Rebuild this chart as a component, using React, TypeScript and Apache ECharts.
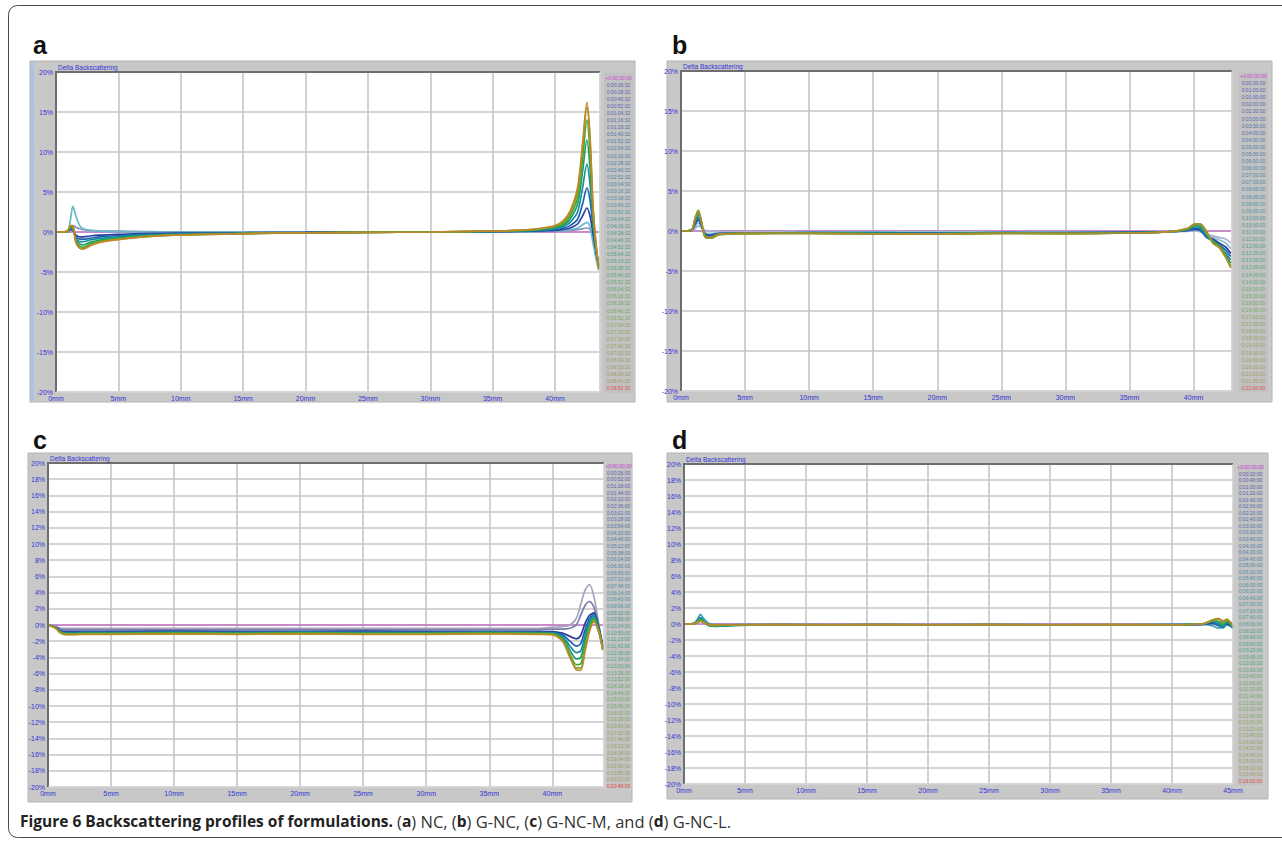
import React, { useEffect, useRef } from "react";
import * as echarts from "echarts";

// ---------- Panel a : NC ----------
const aX = [0, 0.9, 1.15, 1.35, 1.6, 1.9, 2.2, 2.7, 3.5, 5, 7, 10, 15, 20, 25, 30, 34, 36, 38, 39, 40, 40.7, 41.2, 41.8, 42.2, 42.55, 42.8, 43.05, 43.3, 43.5];
const aY = [
  [0, 0, 0, 0, 0, 0, 0, 0, 0, 0, 0, 0, 0, 0, 0, 0, 0, 0, 0, 0, 0, 0, 0, 0, 0, 0, 0, 0, 0, 0],
  [0, 0.05, 0.3, 0.8, 0.6, 0.4, 0.3, 0.2, 0.15, 0.1, 0.05, 0, 0, 0, 0, 0, 0, 0, 0, 0.05, 0.1, 0.15, 0.2, 0.3, 0.4, 0.5, 0.3, -0.5, -2.5, -3.5],
  [0, 0.1, 1.5, 3.2, 2.0, 0.8, 0.4, 0.2, 0.1, 0.05, 0, 0, 0, 0, 0, 0, 0, 0, 0.05, 0.1, 0.15, 0.2, 0.3, 0.5, 0.9, 1.2, 0.6, -1.5, -3.5, -4.8],
  [0, 0.05, 0.3, 0.2, -0.4, -0.6, -0.6, -0.5, -0.4, -0.3, -0.2, -0.15, -0.1, -0.05, 0, 0, 0, 0.05, 0.1, 0.15, 0.2, 0.35, 0.5, 1.0, 2.0, 3.0, 2.0, -0.3, -2.6, -4.0],
  [0, 0.05, 0.4, 0.3, -0.6, -0.9, -0.9, -0.8, -0.6, -0.45, -0.3, -0.2, -0.1, -0.05, 0, 0, 0.05, 0.1, 0.15, 0.2, 0.3, 0.5, 0.8, 1.6, 3.5, 5.5, 4.0, 0.5, -2.5, -4.2],
  [0, 0.05, 0.5, 0.4, -0.8, -1.2, -1.2, -1.0, -0.8, -0.6, -0.4, -0.25, -0.15, -0.1, -0.05, 0, 0.05, 0.1, 0.2, 0.3, 0.45, 0.7, 1.2, 2.5, 5.5, 8.5, 6.0, 1.2, -2.4, -4.3],
  [0, 0.05, 0.6, 0.5, -1.0, -1.5, -1.6, -1.3, -1.0, -0.75, -0.5, -0.3, -0.2, -0.1, -0.05, 0, 0.05, 0.1, 0.2, 0.35, 0.55, 0.9, 1.6, 3.5, 7.5, 11.5, 8.0, 1.8, -2.2, -4.4],
  [0, 0.05, 0.7, 0.6, -1.2, -1.8, -1.9, -1.5, -1.15, -0.85, -0.55, -0.35, -0.2, -0.1, -0.05, 0, 0.1, 0.15, 0.25, 0.4, 0.65, 1.1, 2.0, 4.3, 9.0, 14.0, 10.0, 2.3, -2.1, -4.5],
  [0, 0.05, 0.75, 0.7, -1.3, -2.0, -2.1, -1.7, -1.25, -0.9, -0.6, -0.35, -0.2, -0.1, -0.05, 0, 0.1, 0.15, 0.3, 0.45, 0.75, 1.3, 2.4, 5.0, 10.5, 15.6, 11.5, 2.7, -1.9, -4.6],
  [0, 0.1, 0.8, 0.8, -1.3, -2.0, -2.1, -1.75, -1.3, -0.95, -0.6, -0.35, -0.2, -0.1, -0.05, 0, 0.1, 0.15, 0.3, 0.5, 0.8, 1.5, 2.6, 5.5, 11.0, 16.2, 12.0, 3.0, -1.8, -4.6],
];
const aColors = ["#c040c0", "#8c8cc4", "#6ab8c8", "#2a3f9f", "#1f62b0", "#178c9c", "#1e9e6a", "#3ea832", "#8aa620", "#c0862c"];

// ---------- Panel b : G-NC ----------
const bX = [0, 0.8, 1.1, 1.35, 1.6, 1.9, 2.3, 3, 5, 10, 15, 20, 25, 30, 35, 38, 39.5, 40.1, 40.5, 41, 41.5, 42, 42.5, 42.9];
const bY = [
  [0, 0, 0, 0, 0, 0, 0, 0, 0, 0, 0, 0, 0, 0, 0, 0, 0, 0, 0, 0, 0, 0, 0, 0],
  [0, 0.05, 0.3, 0.6, 0.4, 0.1, 0, -0.1, -0.1, -0.1, -0.1, -0.1, -0.1, -0.1, -0.1, -0.1, -0.05, 0, -0.1, -0.4, -0.6, -0.8, -1.0, -1.5],
  [0, 0.05, 0.5, 1.0, 0.5, -0.2, -0.3, -0.2, -0.2, -0.15, -0.1, -0.15, -0.1, -0.1, -0.1, -0.1, 0, 0.1, 0, -0.5, -0.8, -1.1, -1.5, -2.2],
  [0, 0.05, 0.8, 1.4, 0.6, -0.4, -0.5, -0.3, -0.25, -0.2, -0.2, -0.25, -0.2, -0.2, -0.15, -0.1, 0.05, 0.2, 0.1, -0.7, -1.0, -1.5, -2.0, -2.8],
  [0, 0.1, 1.0, 1.7, 0.7, -0.5, -0.6, -0.35, -0.3, -0.2, -0.25, -0.3, -0.2, -0.25, -0.2, -0.1, 0.1, 0.35, 0.2, -0.8, -1.2, -1.7, -2.4, -3.2],
  [0, 0.1, 1.2, 2.0, 0.8, -0.6, -0.7, -0.4, -0.3, -0.25, -0.3, -0.3, -0.25, -0.25, -0.2, -0.1, 0.15, 0.5, 0.4, -0.6, -1.3, -1.9, -2.8, -3.6],
  [0, 0.1, 1.4, 2.3, 0.9, -0.7, -0.8, -0.4, -0.3, -0.25, -0.3, -0.35, -0.25, -0.3, -0.2, -0.1, 0.2, 0.7, 0.6, -0.3, -1.2, -1.8, -3.0, -4.0],
  [0, 0.1, 1.5, 2.5, 1.0, -0.8, -0.9, -0.45, -0.3, -0.3, -0.35, -0.35, -0.3, -0.3, -0.25, -0.1, 0.25, 0.85, 0.8, -0.2, -1.4, -1.9, -3.1, -4.4],
  [0, 0.1, 1.6, 2.6, 1.1, -0.8, -0.9, -0.45, -0.35, -0.3, -0.35, -0.4, -0.3, -0.35, -0.25, -0.1, 0.3, 0.9, 0.9, -0.1, -1.5, -2.0, -3.2, -4.5],
  [0, 0.1, 1.6, 2.5, 1.2, -0.7, -0.8, -0.4, -0.3, -0.3, -0.35, -0.35, -0.3, -0.3, -0.25, -0.1, 0.3, 0.85, 0.9, 0, -1.5, -2.1, -3.3, -4.6],
];
const bColors = ["#c040c0", "#b0b0d8", "#8cc0d0", "#2a3f9f", "#1f62b0", "#178c9c", "#1e9e6a", "#3ea832", "#8aa620", "#b08a30"];

// ---------- Panel c : G-NC-M ----------
const cX = [0, 0.6, 1.0, 1.4, 2, 3, 5, 10, 15, 20, 25, 30, 35, 39, 40, 40.8, 41.4, 41.9, 42.25, 42.6, 42.95, 43.3, 43.7, 44.0];
const cY = [
  [0, 0, 0, 0, 0, 0, 0, 0, 0, 0, 0, 0, 0, 0, 0, 0, 0, 0, 0, 0, 0, 0, 0, 0],
  [0, -0.2, -0.4, -0.4, -0.4, -0.4, -0.4, -0.4, -0.4, -0.4, -0.4, -0.4, -0.4, -0.4, -0.3, -0.2, 0, 0.8, 2.5, 4.3, 5.0, 3.5, 0, -2.6],
  [0, -0.2, -0.5, -0.6, -0.6, -0.6, -0.6, -0.6, -0.6, -0.6, -0.6, -0.6, -0.6, -0.6, -0.5, -0.5, -0.4, 0, 1.2, 2.4, 2.9, 2.2, -0.3, -2.7],
  [0, -0.3, -0.7, -0.8, -0.8, -0.8, -0.8, -0.75, -0.8, -0.8, -0.75, -0.8, -0.8, -0.8, -0.8, -1.0, -1.4, -1.7, -1.3, 0.2, 1.2, 1.5, -0.4, -2.7],
  [0, -0.3, -0.8, -0.9, -0.9, -0.85, -0.9, -0.85, -0.9, -0.85, -0.85, -0.9, -0.85, -0.9, -0.9, -1.2, -2.0, -2.6, -2.3, -0.6, 0.8, 1.3, -0.5, -2.8],
  [0, -0.3, -0.85, -1.0, -1.0, -0.95, -0.95, -0.9, -0.95, -0.9, -0.95, -0.95, -0.9, -0.95, -1.0, -1.4, -2.6, -3.4, -3.2, -1.3, 0.5, 1.1, -0.6, -2.9],
  [0, -0.35, -0.9, -1.05, -1.05, -1.0, -1.0, -0.95, -1.0, -0.95, -1.0, -1.0, -0.95, -1.0, -1.05, -1.6, -3.1, -4.2, -4.0, -2.0, 0.1, 0.9, -0.7, -3.0],
  [0, -0.35, -0.95, -1.1, -1.1, -1.05, -1.05, -1.0, -1.05, -1.0, -1.05, -1.05, -1.0, -1.05, -1.1, -1.8, -3.6, -4.9, -4.8, -2.6, -0.3, 0.7, -0.8, -3.0],
  [0, -0.4, -1.0, -1.15, -1.15, -1.1, -1.1, -1.05, -1.1, -1.05, -1.1, -1.1, -1.05, -1.1, -1.15, -1.9, -3.9, -5.3, -5.3, -3.0, -0.6, 0.5, -0.9, -3.1],
  [0, -0.4, -1.0, -1.2, -1.2, -1.15, -1.15, -1.1, -1.15, -1.1, -1.15, -1.15, -1.1, -1.15, -1.2, -2.0, -4.0, -5.5, -5.6, -3.2, -0.8, 0.4, -1.0, -3.1],
];
const cColors = ["#c040c0", "#a4a4bc", "#7c7cae", "#2a3a9a", "#1f5fb0", "#1a88a0", "#1e9e70", "#3ea832", "#8aa620", "#b88a2c"];

// ---------- Panel d : G-NC-L ----------
const dX = [0, 0.8, 1.1, 1.35, 1.6, 2.0, 2.5, 4, 8, 12, 16, 20, 25, 30, 35, 40, 42.5, 43.3, 43.8, 44.2, 44.5, 44.8, 45];
const dY = [
  [0, 0, 0, 0, 0, 0, 0, 0, 0, 0, 0, 0, 0, 0, 0, 0, 0, 0, 0, 0, 0, 0, 0],
  [0, 0.05, 0.2, 0.4, 0.2, 0, -0.05, -0.05, -0.05, -0.05, -0.05, -0.05, -0.05, -0.05, -0.05, -0.05, -0.05, 0, 0.1, 0, -0.1, -0.2, -0.3],
  [0, 0.1, 0.6, 1.2, 0.7, 0.1, -0.1, -0.1, -0.05, -0.1, -0.05, -0.1, -0.05, -0.1, -0.1, -0.05, -0.05, -0.2, -0.5, -0.4, -0.1, -0.3, -0.5],
  [0, 0.05, 0.3, 0.6, 0.3, -0.1, -0.2, -0.15, -0.1, -0.1, -0.1, -0.1, -0.1, -0.1, -0.1, -0.1, -0.05, 0.1, -0.2, -0.3, 0, -0.2, -0.4],
  [0, 0.05, 0.35, 0.7, 0.35, -0.15, -0.25, -0.15, -0.1, -0.1, -0.1, -0.1, -0.1, -0.1, -0.1, -0.1, -0.05, 0.2, -0.1, -0.4, 0.1, -0.1, -0.4],
  [0, 0.05, 0.4, 0.8, 0.4, -0.2, -0.3, -0.2, -0.1, -0.15, -0.1, -0.1, -0.1, -0.1, -0.1, -0.1, 0, 0.3, 0, -0.5, 0.2, -0.1, -0.5],
  [0, 0.05, 0.3, 0.6, 0.3, -0.15, -0.25, -0.15, -0.1, -0.1, -0.1, -0.1, -0.1, -0.1, -0.1, -0.1, 0, 0.4, 0.3, -0.2, 0.4, 0, -0.4],
  [0, 0.05, 0.25, 0.5, 0.25, -0.1, -0.2, -0.1, -0.1, -0.1, -0.1, -0.1, -0.1, -0.1, -0.1, -0.1, 0, 0.5, 0.6, 0.1, 0.5, 0.1, -0.3],
  [0, 0.05, 0.2, 0.4, 0.2, -0.1, -0.15, -0.1, -0.1, -0.1, -0.1, -0.1, -0.1, -0.1, -0.1, -0.1, 0, 0.5, 0.7, 0.3, 0.6, 0.2, -0.3],
  [0, 0.05, 0.2, 0.35, 0.2, -0.05, -0.1, -0.1, -0.05, -0.1, -0.05, -0.1, -0.05, -0.1, -0.05, -0.1, 0, 0.4, 0.6, 0.4, 0.5, 0.2, -0.2],
];
const dColors = ["#c040c0", "#9090c0", "#2aa0b0", "#2a3f9f", "#1f62b0", "#178c9c", "#1e9e6a", "#6aa628", "#8aa620", "#b08a30"];

// ---------- Texts ----------
const panelLetters = ["a", "b", "c", "d"];
const plotTitle = "Delta Backscattering";
const xUnit = "mm";
const yUnit = "%";
const xMaxes = [43.6, 43.0, 44.1, 45];
const yIntervals = [5, 5, 2, 2];
const captionBold = "Figure 6 Backscattering profiles of formulations.";
const captionParts = [
  ["a", "NC, "],
  ["b", "G-NC, "],
  ["c", "G-NC-M, and "],
  ["d", "G-NC-L."],
];
// legend time scans
const legendCounts = [45, 45, 49, 49];
const legendStepMin = [12, 30, 26, 20];
const legendOffsetMin = [4, 0, 0, 0];
const legendSeconds = [32, 0, 0, 0];

const LABEL_BLUE = "#3434d4";
const FONT = "Liberation Sans, Arial, sans-serif";

const pad = (n: number) => (n < 10 ? "0" + n : "" + n);
function timeLabel(totalMin: number, sec: number) {
  const d = Math.floor(totalMin / 1440);
  const h = Math.floor((totalMin % 1440) / 60);
  const m = totalMin % 60;
  return `${d}:${pad(h)}:${pad(m)}:${pad(sec)}`;
}
function hexToRgb(h: string) {
  const v = parseInt(h.slice(1), 16);
  return [(v >> 16) & 255, (v >> 8) & 255, v & 255];
}
function mix(a: string, b: string, t: number) {
  const A = hexToRgb(a), B = hexToRgb(b);
  const c = A.map((x, i) => Math.round(x + (B[i] - x) * t));
  return `rgb(${c[0]},${c[1]},${c[2]})`;
}
const legendStops: [number, string][] = [
  [0, "#5a5ab4"],
  [0.35, "#4a8ca8"],
  [0.6, "#48a878"],
  [0.8, "#88a858"],
  [1, "#a89868"],
];
function legendColor(t: number) {
  for (let i = 0; i < legendStops.length - 1; i++) {
    const [t0, c0] = legendStops[i];
    const [t1, c1] = legendStops[i + 1];
    if (t <= t1) return mix(c0, c1, (t - t0) / (t1 - t0));
  }
  return legendStops[legendStops.length - 1][1];
}

type Layout = {
  grid: { left: number; top: number; width: number; height: number };
  frame: { x: number; y: number; w: number; h: number };
  legend: { x: number; w: number; y0: number; y1: number };
  letter: { x: number; y: number };
};

const layouts: Layout[] = [
  { grid: { left: 56, top: 72, width: 544, height: 320 }, frame: { x: 30, y: 61, w: 605, h: 341 }, legend: { x: 603, w: 31, y0: 78, y1: 388 }, letter: { x: 33, y: 45 } },
  { grid: { left: 681, top: 71, width: 551, height: 320 }, frame: { x: 667, y: 61, w: 605, h: 341 }, legend: { x: 1238, w: 31, y0: 76, y1: 388 }, letter: { x: 672, y: 45 } },
  { grid: { left: 48, top: 463, width: 556, height: 324 }, frame: { x: 28, y: 453, w: 604, h: 349 }, legend: { x: 606, w: 25, y0: 466, y1: 786 }, letter: { x: 33, y: 440 } },
  { grid: { left: 684, top: 464, width: 549, height: 320 }, frame: { x: 667, y: 453, w: 601, h: 346 }, legend: { x: 1237, w: 27, y0: 467, y1: 781 }, letter: { x: 672, y: 440 } },
];

const panelXs = [aX, bX, cX, dX];
const panelYs = [aY, bY, cY, dY];
const panelColors = [aColors, bColors, cColors, dColors];

function buildOption() {
  const grids: any[] = [];
  const xAxes: any[] = [];
  const yAxes: any[] = [];
  const series: any[] = [];
  const graphics: any[] = [];

  graphics.push({
    type: "rect",
    z: -20,
    shape: { x: 8.5, y: 5.5, width: 1300, height: 832, r: 9 },
    style: { fill: "#ffffff", stroke: "#4a4a4a", lineWidth: 1 },
  });

  layouts.forEach((L, p) => {
    const g = L.grid;
    grids.push({ left: g.left, top: g.top, width: g.width, height: g.height, containLabel: false });
    xAxes.push({
      gridIndex: p,
      type: "value",
      min: 0,
      max: xMaxes[p],
      interval: 5,
      axisLine: { show: false },
      axisTick: { show: false },
      axisLabel: {
        formatter: "{value}" + xUnit,
        color: LABEL_BLUE,
        fontSize: 7,
        fontFamily: FONT,
        margin: 3,
        showMaxLabel: p === 3,
      },
      splitLine: { show: true, lineStyle: { color: "#c6c6c6", width: 1.6 } },
    });
    yAxes.push({
      gridIndex: p,
      type: "value",
      min: -20,
      max: 20,
      interval: yIntervals[p],
      axisLine: { show: false },
      axisTick: { show: false },
      axisLabel: {
        formatter: "{value}" + yUnit,
        color: LABEL_BLUE,
        fontSize: 7,
        fontFamily: FONT,
        margin: 3,
      },
      splitLine: { show: true, lineStyle: { color: "#c6c6c6", width: 1.6 } },
    });

    const xs = panelXs[p];
    panelYs[p].forEach((ys, k) => {
      series.push({
        type: "line",
        xAxisIndex: p,
        yAxisIndex: p,
        data: xs.map((x, i) => [x, ys[i]]),
        showSymbol: false,
        symbol: "none",
        smooth: 0.3,
        silent: true,
        z: 3,
        lineStyle: { width: k === 0 ? 1 : 1.7, color: panelColors[p][k] },
      });
    });

    const F = L.frame;
    graphics.push({
      type: "rect",
      z: -10,
      shape: { x: F.x, y: F.y, width: F.w, height: F.h },
      style: { fill: "#c8c8c8", stroke: "#b4b4b4", lineWidth: 1 },
    });
    graphics.push({
      type: "rect",
      z: -9,
      shape: { x: L.legend.x, y: g.top, width: L.legend.w, height: g.height + 2 },
      style: { fill: "#c2c2c2", stroke: "#d4d4d4", lineWidth: 0.6 },
    });
    graphics.push({
      type: "rect",
      z: -8,
      shape: { x: g.left, y: g.top, width: g.width, height: g.height },
      style: { fill: "#ffffff" },
    });
    graphics.push({
      type: "polyline",
      z: 8,
      shape: { points: [[g.left, g.top + g.height], [g.left, g.top], [g.left + g.width, g.top]] },
      style: { stroke: "#6e6e6e", lineWidth: 2, fill: "none" },
    });
    graphics.push({
      type: "polyline",
      z: 8,
      shape: { points: [[g.left, g.top + g.height], [g.left + g.width, g.top + g.height], [g.left + g.width, g.top]] },
      style: { stroke: "#dcdcdc", lineWidth: 1, fill: "none" },
    });
    graphics.push({
      type: "text",
      z: 10,
      x: g.left + 2,
      y: g.top - 5,
      style: { text: plotTitle, fill: LABEL_BLUE, font: `6.5px ${FONT}`, verticalAlign: "middle" },
    });
    graphics.push({
      type: "text",
      z: 10,
      x: L.letter.x,
      y: L.letter.y,
      style: { text: panelLetters[p], fill: "#111111", font: `bold 25px ${FONT}`, verticalAlign: "middle" },
    });
    const n = legendCounts[p];
    for (let i = 0; i < n; i++) {
      const y = L.legend.y0 + (i * (L.legend.y1 - L.legend.y0)) / (n - 1);
      let txt: string;
      let col: string;
      if (i === 0) {
        txt = "+0:00:00:00";
        col = "#d040d8";
      } else {
        txt = timeLabel(legendOffsetMin[p] + legendStepMin[p] * i, legendSeconds[p]);
        col = i === n - 1 ? "#e04848" : legendColor((i - 1) / (n - 2));
      }
      graphics.push({
        type: "text",
        z: 10,
        x: L.legend.x + L.legend.w / 2,
        y,
        style: { text: txt, fill: col, font: `5px ${FONT}`, align: "center", verticalAlign: "middle" },
      });
    }
  });

  graphics.push({
    type: "rect",
    z: -7,
    shape: { x: 31, y: 61, width: 3, height: 341 },
    style: { fill: "#a6c4e4" },
  });

  const capText =
    "{b|" + captionBold + "} " +
    captionParts.map(([l, t]) => `{r|(}{b|${l}}{r|) ${t}}`).join("");
  graphics.push({
    type: "text",
    z: 10,
    x: 20,
    y: 821,
    style: {
      text: capText,
      fill: "#222222",
      font: `16px "Open Sans", ${FONT}`,
      verticalAlign: "middle",
      rich: {
        b: { fontWeight: "bold", fontSize: 15.5, fontFamily: '"Open Sans", Liberation Sans, sans-serif', fill: "#222222" },
        r: { fontWeight: "normal", fontSize: 16.5, fontFamily: '"Open Sans", Liberation Sans, sans-serif', fill: "#333333" },
      },
    },
  });

  return {
    animation: false,
    backgroundColor: "#ffffff",
    grid: grids,
    xAxis: xAxes,
    yAxis: yAxes,
    series,
    graphic: { elements: graphics },
  };
}

export default function App() {
  const ref = useRef<HTMLDivElement>(null);
  useEffect(() => {
    if (!ref.current) return;
    const chart = echarts.init(ref.current, undefined, { renderer: "svg" });
    chart.setOption(buildOption() as any);
    return () => chart.dispose();
  }, []);
  return (
    <div
      ref={ref}
      style={{ position: "absolute", left: 0, top: 0, width: 1282, height: 842, background: "#fff" }}
    />
  );
}
